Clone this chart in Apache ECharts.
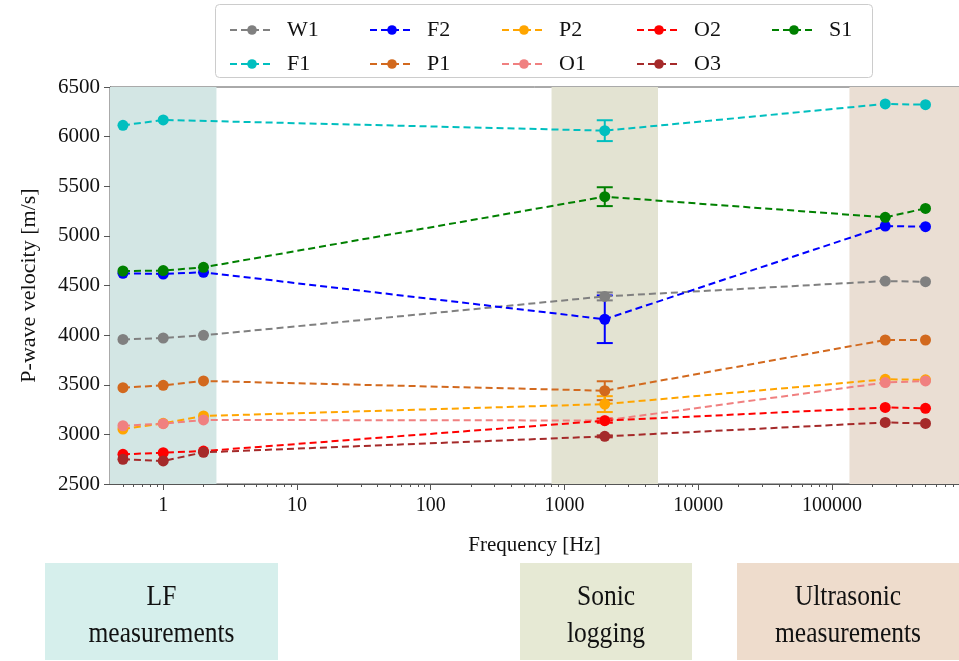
<!DOCTYPE html>
<html>
<head>
<meta charset="utf-8">
<script src="https://cdn.jsdelivr.net/npm/echarts@6/dist/echarts.min.js"></script>
<style>
  html, body { margin: 0; padding: 0; background: #fff; }
  #main { width: 959px; height: 661px; }
</style>
</head>
<body>
<div id="main"></div>
<script>
// frequencies [Hz] of the measurement points
var freq = [0.5, 1, 2, 2000, 250000, 500000];

// P-wave velocity [m/s] per sample
var W1 = [3957, 3971, 3998, 4390, 4545, 4538];
var F1 = [6114, 6168, null, 6060, 6329, 6322];
var F2 = [4623, 4616, 4633, 4160, 5099, 5093];
var P1 = [3471, 3494, 3538, 3440, 3951, 3951];
var P2 = [3054, 3111, 3185, 3305, 3555, 3550];
var O1 = [3087, 3108, 3145, 3140, 3522, 3538];
var O2 = [2799, 2815, 2832, 3138, 3271, 3262];
var O3 = [2749, 2732, 2819, 2980, 3120, 3110];
var S1 = [4646, 4650, 4683, 5395, 5187, 5277];

// sonic logging error (+/-) at 2000 Hz
var errFreq = 2000;
var errW1 = 40, errF1 = 105, errF2 = 240, errP1 = 95, errP2 = 80;
var errO1 = 20, errO2 = 20, errO3 = 10, errS1 = 95;

var xTickLabels = [1, 10, 100, 1000, 10000, 100000];

// frequency bands
var bandLF = [0.4, 2.5];
var bandSonic = [800, 5000];
var bandUltra = [135000, 890000];

var samples = [
  { name: "W1", data: W1, err: errW1, color: "#808080" },
  { name: "F1", data: F1, err: errF1, color: "#00bfbf" },
  { name: "F2", data: F2, err: errF2, color: "#0000ff" },
  { name: "P1", data: P1, err: errP1, color: "#d2691e" },
  { name: "P2", data: P2, err: errP2, color: "#ffa500" },
  { name: "O1", data: O1, err: errO1, color: "#f08080" },
  { name: "O2", data: O2, err: errO2, color: "#ff0000" },
  { name: "O3", data: O3, err: errO3, color: "#a52a2a" },
  { name: "S1", data: S1, err: errS1, color: "#008000" }
];

var serif = "Liberation Serif";

// minor ticks of the log axis (2..9 of each decade)
var minorTicks = [];
for (var e = -1; e <= 5; e++) {
  for (var m = 2; m <= 9; m++) {
    var v = m * Math.pow(10, e);
    if (v > 0.4 && v < 890000) minorTicks.push(+v.toPrecision(3));
  }
}

var series = [];
// shaded bands
series.push({
  type: "line",
  data: [],
  z: 1,
  silent: true,
  markArea: {
    silent: true,
    data: [
      [{ xAxis: bandLF[0], itemStyle: { color: "#d3e6e4" } }, { xAxis: bandLF[1] }],
      [{ xAxis: bandSonic[0], itemStyle: { color: "#e3e3d2" } }, { xAxis: bandSonic[1] }],
      [{ xAxis: bandUltra[0], itemStyle: { color: "#eaded3" } }, { xAxis: bandUltra[1] }]
    ]
  }
});

samples.forEach(function (s) {
  series.push({
    name: s.name,
    type: "line",
    z: 3,
    connectNulls: true,
    symbol: "circle",
    symbolSize: 11,
    itemStyle: { color: s.color },
    lineStyle: { color: s.color, width: 2, type: [7, 4] },
    data: freq.map(function (f, i) { return [f, s.data[i]]; })
  });
  var y = s.data[freq.indexOf(errFreq)];
  series.push({
    name: s.name,
    type: "custom",
    z: 3,
    renderItem: function (params, api) {
      var lo = api.coord([api.value(0), api.value(1)]);
      var hi = api.coord([api.value(0), api.value(2)]);
      var w = 8;
      var st = { stroke: s.color, lineWidth: 2 };
      return {
        type: "group",
        children: [
          { type: "line", shape: { x1: lo[0], y1: lo[1], x2: hi[0], y2: hi[1] }, style: st },
          { type: "line", shape: { x1: lo[0] - w, y1: lo[1], x2: lo[0] + w, y2: lo[1] }, style: st },
          { type: "line", shape: { x1: hi[0] - w, y1: hi[1], x2: hi[0] + w, y2: hi[1] }, style: st }
        ]
      };
    },
    encode: { x: 0, y: [1, 2] },
    data: [[errFreq, y - s.err, y + s.err]]
  });
});

// legend columns (matplotlib fills columns first)
var columns = [["W1", "F1"], ["F2", "P1"], ["P2", "O1"], ["O2", "O3"], ["S1"]];
var colLeft = [224, 364, 496, 631, 766];
var legends = columns.map(function (col, i) {
  return {
    orient: "vertical",
    left: colLeft[i],
    top: 14,
    itemWidth: 44,
    itemHeight: 12,
    itemGap: 12,
    data: col,
    textStyle: { fontFamily: serif, fontSize: 22, color: "#111", lineHeight: 22, padding: [0, 0, 0, 8] }
  };
});

var boxes = [
  { x: 45, w: 233, color: "#d6efec", lines: ["LF", "measurements"] },
  { x: 520, w: 172, color: "#e6e9d4", lines: ["Sonic", "logging"] },
  { x: 737, w: 222, color: "#eedccc", lines: ["Ultrasonic", "measurements"] }
];
var graphics = [{
  type: "rect",
  left: 215, top: 4,
  shape: { width: 657, height: 73, r: 4 },
  style: { fill: "#fff", stroke: "#cccccc", lineWidth: 1 },
  z: -1
}];
boxes.forEach(function (b) {
  graphics.push({
    type: "rect",
    left: b.x, top: 563,
    shape: { width: b.w, height: 97 },
    style: { fill: b.color }
  });
  graphics.push({
    type: "text",
    x: b.x + b.w / 2, y: 616,
    scaleX: 0.88,
    style: {
      text: b.lines.join("\n"),
      fontFamily: serif, fontSize: 29, lineHeight: 37,
      fill: "#111", align: "center", verticalAlign: "middle"
    }
  });
});

var chart = echarts.init(document.getElementById("main"));
chart.setOption({
  animation: false,
  backgroundColor: "#fff",
  legend: legends,
  graphic: graphics,
  grid: {
    left: 110, right: -2, top: 87, bottom: 177,
    show: true, borderColor: "#555", borderWidth: 1
  },
  xAxis: [{
    type: "log",
    logBase: 10,
    min: 0.4,
    max: 890000,
    name: "Frequency [Hz]",
    nameLocation: "middle",
    nameGap: 51,
    nameTextStyle: { fontFamily: serif, fontSize: 21, color: "#111" },
    axisLine: { lineStyle: { color: "#555", width: 1 } },
    axisTick: { length: 6, lineStyle: { color: "#555" }, customValues: xTickLabels },
    axisLabel: {
      fontFamily: serif, fontSize: 20, color: "#111", margin: 12,
      customValues: xTickLabels,
      formatter: function (v) { return String(Math.round(v)); }
    },
    splitLine: { show: false }
  }, {
    type: "log",
    logBase: 10,
    min: 0.4,
    max: 890000,
    position: "bottom",
    axisLine: { show: false },
    axisTick: { length: 3, lineStyle: { color: "#555" }, customValues: minorTicks },
    axisLabel: { show: false },
    splitLine: { show: false }
  }],
  yAxis: {
    type: "value",
    min: 2500,
    max: 6500,
    interval: 500,
    name: "P-wave velocity [m/s]",
    nameLocation: "middle",
    nameGap: 70,
    nameTextStyle: { fontFamily: serif, fontSize: 22, color: "#111" },
    axisLine: { show: true, lineStyle: { color: "#555", width: 1 } },
    axisTick: { show: true, length: 6, lineStyle: { color: "#555" } },
    axisLabel: {
      fontFamily: serif, fontSize: 21, color: "#111", margin: 10,
      formatter: function (v) { return String(v); }
    },
    splitLine: { show: false }
  },
  series: series
});
</script>
</body>
</html>
